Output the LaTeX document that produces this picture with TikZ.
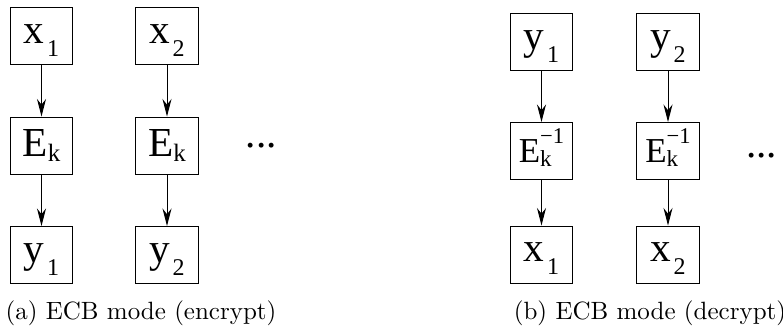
\documentclass[tikz,border=0pt]{standalone}
\usepackage{fontspec}
\newfontfamily\boxfont{Liberation Serif}
\usetikzlibrary{positioning,arrows.meta}

\newcommand\xsub[2]{#1\hspace{1pt}\raisebox{-5.2pt}{\fontsize{9.6}{11}\selectfont #2}}
\newcommand\esub{E\raisebox{-2pt}{\fontsize{10}{11}\selectfont k}}
\newcommand\einv{{\fontsize{14}{16}\selectfont E}\rlap{\raisebox{-1.6pt}{\fontsize{9.2}{11}\selectfont k}}\raisebox{7.6pt}{\fontsize{9}{10}\selectfont −1}}

\begin{document}
\begin{tikzpicture}[
		>={Stealth[length=7pt,width=3.6pt]},
		block/.style={
			draw=black,
			line width=.4pt,
			minimum width=25pt,
			minimum height=22.8pt,
			inner sep=0pt,
			text height=11pt,
			font=\boxfont\fontsize{16.5}{18}\selectfont,
		},
		dots/.style={inner sep=0pt,font=\boxfont\fontsize{16.5}{18}\selectfont},
		caption/.style={inner sep=0pt},
	]
	\useasboundingbox (0,0) rectangle (313.2pt,-131.6pt);
	% left side of the picture: encryption
	\node[block] (xa1) at (16.6pt,-14.4pt) {\xsub{x}{1}};
	\node[block] (xa2) [right=24.8pt of xa1] {\xsub{x}{2}};
	\node[block] (ea1) [below=20.6pt of xa1] {\esub};
	\node[block] (ea2) [below=20.6pt of xa2] {\esub};
	\node[block] (ya1) [below=20.6pt of ea1] {\xsub{y}{1}};
	\node[block] (ya2) [below=20.6pt of ea2] {\xsub{y}{2}};
	\node[dots] (dotsa) [right=18.6pt of ea2] {...};
	\node[caption] (capa) at (56.4pt,-125.2pt) {(a) ECB mode (encrypt)};
	% right side of the picture: decryption
	\node[block] (yb1) at (216.6pt,-16.8pt) {\xsub{y}{1}};
	\node[block] (yb2) [right=25.2pt of yb1] {\xsub{y}{2}};
	\node[block] (eb1) [below=20.4pt of yb1] {\einv};
	\node[block] (eb2) [below=20.4pt of yb2] {\einv};
	\node[block] (xb1) [below=18.2pt of eb1] {\xsub{x}{1}};
	\node[block] (xb2) [below=18.2pt of eb2] {\xsub{x}{2}};
	\node[dots] (dotsb) [right=18.4pt of eb2,yshift=-2pt] {...};
	\node[caption] (capb) at (260pt,-125.2pt) {(b) ECB mode (decrypt)};
	% draw the connection lines
	\draw[->] (xa1) -- (ea1);
	\draw[->] (ea1) -- (ya1);
	\draw[->] (xa2) -- (ea2);
	\draw[->] (ea2) -- (ya2);
	\draw[->] (yb1) -- (eb1);
	\draw[->] (eb1) -- (xb1);
	\draw[->] (yb2) -- (eb2);
	\draw[->] (eb2) -- (xb2);
\end{tikzpicture}
\end{document}
